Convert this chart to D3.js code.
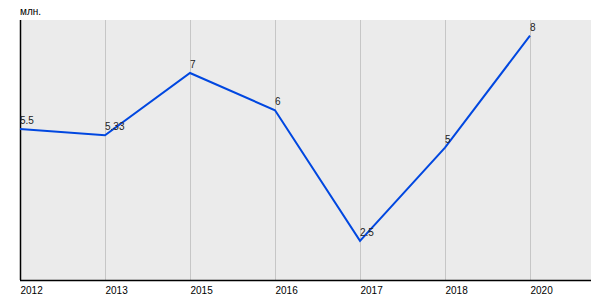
<!DOCTYPE html>
<html lang="ru">
<head>
<meta charset="UTF-8">
<title>Line chart</title>
<style>
    body{ margin: 0; background: #fff; }
    svg text{ font-family: Arial, "Liberation Sans", sans-serif; }
</style>
</head>
<body>
<svg id="chart" width="600" height="300"></svg>
<script src="https://d3js.org/d3.v7.min.js"></script>
<script>

var years = ["2012", "2013", "2015", "2016", "2017", "2018", "2020"],
    values = [5.5, 5.33, 7, 6, 2.5, 5, 8],
    valueLabels = ["5.5", "5.33", "7", "6", "2.5", "5", "8"],
    unit = "млн.";

var svg = d3.select("#chart"),
    plotLeft = 20, plotRight = 591, plotTop = 20, plotBottom = 280;

var x = d3.scalePoint().domain(years).range([plotLeft, 530]),
    y = d3.scaleLinear().domain([1.45, 8.42]).range([plotBottom, plotTop]);

// plot background
svg.append("rect")
    .attr("x", plotLeft).attr("y", plotTop)
    .attr("width", plotRight - plotLeft).attr("height", plotBottom - plotTop)
    .attr("fill", "#ebebeb");

// vertical grid
svg.append("g")
    .selectAll("line")
    .data(years.slice(1))
    .enter().append("line")
        .attr("x1", d => x(d) + 0.5).attr("x2", d => x(d) + 0.5)
        .attr("y1", plotTop).attr("y2", plotBottom)
        .attr("stroke", "#c6c6c6");

// axes
var xAxis = d3.axisBottom(x).tickSize(0).tickPadding(0);
var gx = svg.append("g")
    .attr("transform", `translate(0,${plotBottom + 0.5})`)
    .call(xAxis);
gx.select(".domain").attr("d", `M${plotLeft},0H${plotRight}`).attr("stroke", "#000").attr("stroke-width", 1.5);
gx.selectAll("text")
    .attr("text-anchor", "start")
    .attr("dy", null)
    .attr("y", 13)
    .attr("font-size", "10px")
    .attr("fill", "#000");

svg.append("line")
    .attr("x1", plotLeft + 0.5).attr("x2", plotLeft + 0.5)
    .attr("y1", plotTop).attr("y2", plotBottom)
    .attr("stroke", "#000").attr("stroke-width", 1.5);

svg.append("text")
    .attr("x", plotLeft).attr("y", 15)
    .attr("font-size", "10px")
    .text(unit);

// the line
var line = d3.line()
    .x((d, i) => x(years[i]))
    .y(d => y(d));

svg.append("path")
    .datum(values)
    .attr("d", line)
    .attr("fill", "none")
    .attr("stroke", "#0047e0")
    .attr("stroke-width", 2);

// value labels
svg.append("g")
    .selectAll("text")
    .data(values)
    .enter().append("text")
        .attr("x", (d, i) => x(years[i]))
        .attr("y", d => y(d) - 5)
        .attr("font-size", "10px")
        .attr("fill", "#222")
        .text((d, i) => valueLabels[i]);

</script>
</body>
</html>
